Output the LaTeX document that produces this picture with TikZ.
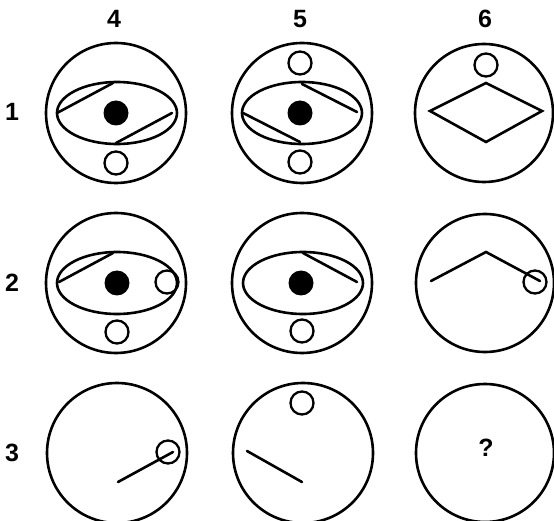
\documentclass[tikz,border=0pt]{standalone}
\usepackage{fontspec}
\setmainfont{Liberation Sans}
\begin{document}
\begin{tikzpicture}[x=1pt,y=-1pt,
  stroke/.style={line width=2.6pt,line cap=round,line join=miter},
  outer/.style={stroke},
  eye/.style={stroke},
  pupil/.style={fill=black},
  ring/.style={line width=2.3pt},
  lbl/.style={inner sep=0pt,font=\bfseries\fontsize{25}{25}\selectfont}]
\useasboundingbox (0,0) rectangle (554,521);
% labels
\node[lbl] (c4) at (114,19) {4};
\node[lbl] (c5) at (300,19) {5};
\node[lbl] (c6) at (485,19) {6};
\node[lbl] (r1) at (12,112) {1};
\node[lbl] (r2) at (12,283) {2};
\node[lbl] (r3) at (12,453) {3};
% row 1 col 4
\draw[outer] (116,113) circle[radius=70];
\draw[eye] (117,113) ellipse[x radius=60,y radius=31];
\draw[stroke] (57,113) -- (113,83);
\draw[stroke] (116,143) -- (172,113);
\fill[pupil] (116,113) circle[radius=12.5];
\draw[ring] (116,163) circle[radius=11.5];
% row 1 col 5
\draw[outer] (302,113) circle[radius=70];
\draw[eye] (302,113) ellipse[x radius=60,y radius=31];
\draw[stroke] (302,84) -- (357,112);
\draw[stroke] (243,113) -- (300,142);
\fill[pupil] (300,113) circle[radius=12.5];
\draw[ring] (300,63) circle[radius=11.5];
\draw[ring] (300,162) circle[radius=11.5];
% row 1 col 6
\draw[outer] (484,113) circle[radius=69];
\draw[ring] (486,65) circle[radius=11.5];
\draw[stroke] (486,83) -- (542,111) -- (486,142) -- (430,111) -- cycle;
% row 2 col 4
\draw[outer] (116,283) circle[radius=70];
\draw[eye] (117,283) ellipse[x radius=60,y radius=31];
\draw[stroke] (59,282) -- (113,253);
\fill[pupil] (117,283) circle[radius=12.5];
\draw[ring] (167,282) circle[radius=11.5];
\draw[ring] (117,332) circle[radius=11.5];
% row 2 col 5
\draw[outer] (302,283) circle[radius=70];
\draw[eye] (303,283) ellipse[x radius=60,y radius=31];
\draw[stroke] (303,253) -- (357,282);
\fill[pupil] (301,283) circle[radius=12.5];
\draw[ring] (302,331) circle[radius=11.5];
% row 2 col 6
\draw[outer] (485,283) circle[radius=69];
\draw[stroke] (431,281) -- (486,252) -- (540,281);
\draw[ring] (535,282) circle[radius=11.5];
% row 3 col 4
\draw[outer] (117,453) circle[radius=70];
\draw[ring] (168,452) circle[radius=11.5];
\draw[stroke] (118,482) -- (173,452);
% row 3 col 5
\draw[outer] (303,453) circle[radius=70];
\draw[ring] (302,403) circle[radius=11.5];
\draw[stroke] (247,451) -- (302,482);
% row 3 col 6
\draw[outer] (485,453) circle[radius=69];
\node[lbl] (q) at (486,448) {?};
\end{tikzpicture}
\end{document}
